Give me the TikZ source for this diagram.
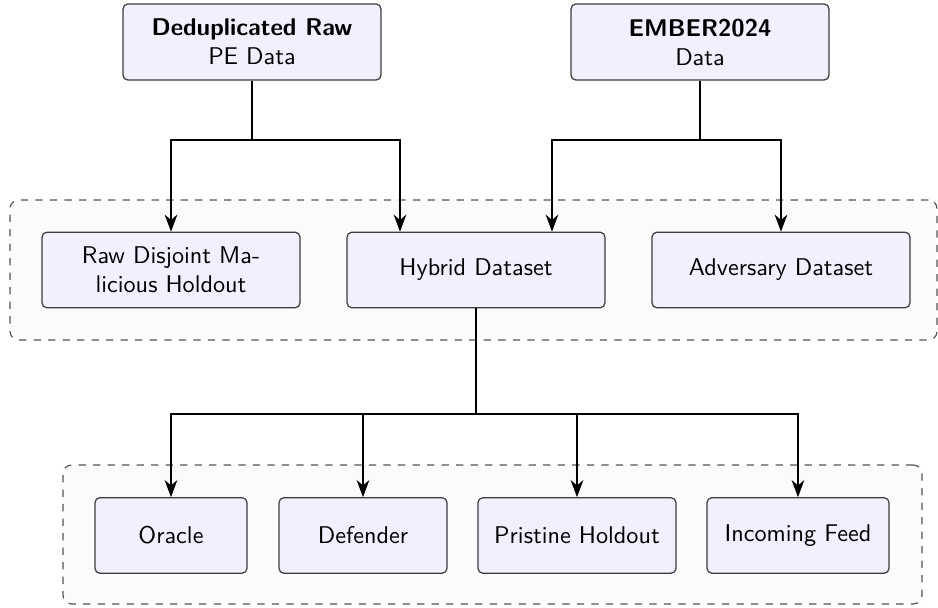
\documentclass[tikz,border=0pt]{standalone}
\usetikzlibrary{arrows.meta,calc,positioning}
\definecolor{boxfill}{RGB}{240,240,254}
\definecolor{boxline}{RGB}{60,60,60}
\definecolor{grpfill}{RGB}{251,251,251}
\definecolor{grpline}{RGB}{85,85,85}
\begin{document}
\begin{tikzpicture}[x=0.4132pt,y=-0.4132pt,
  font=\sffamily,
  databox/.style={draw=boxline,fill=boxfill,rounded corners=2pt,line width=0.5pt,
    inner sep=1pt,align=center,minimum height=31.2pt},
  group/.style={draw=grpline,fill=grpfill,dashed,rounded corners=3.5pt,line width=0.5pt,inner sep=0pt},
  link/.style={line width=1pt,black},
  flow/.style={link,-{Stealth[length=7pt,width=5.2pt,inset=2.2pt]}}]
\useasboundingbox (0,0) rectangle (938,608);
% groups
\node[group,minimum width=383pt,minimum height=57.85pt] (g1) at (473.5,270) {};
\node[group,minimum width=354.9pt,minimum height=57.4pt] (g2) at (492.5,534.5) {};
% top sources
\node[databox,minimum width=106.6pt,minimum height=31.4pt] (dedup) at (252,42) {\textbf{Deduplicated Raw}\\PE Data};
\node[databox,minimum width=106.6pt,minimum height=31.4pt] (ember) at (700,42) {\textbf{EMBER2024}\\Data};
% middle row
\node[databox,minimum width=106.6pt] (raw) at (171,270) {Raw Disjoint Ma-\\licious Holdout};
\node[databox,minimum width=106.6pt] (hybrid) at (476,270) {Hybrid Dataset};
\node[databox,minimum width=106.6pt] (adv) at (781,270) {Adversary Dataset};
% bottom row
\node[databox,minimum width=62.8pt] (oracle) at (171,535.5) {Oracle};
\node[databox,minimum width=69.4pt] (defender) at (363,535.5) {Defender};
\node[databox,minimum width=81.8pt] (pristine) at (577,535.5) {Pristine Holdout};
\node[databox,minimum width=75.2pt] (feed) at (798,535.5) {Incoming Feed};
% split points
\coordinate (s1) at (252,140);
\coordinate (s2) at (700,140);
\coordinate (s3) at (476,414);
\coordinate (h1) at ($(hybrid.north)+(-76,0)$);
\coordinate (h2) at ($(hybrid.north)+(76,0)$);
% connectors
\draw[link] (dedup.south) -- (s1);
\draw[flow] (s1) -| (raw.north);
\draw[flow] (s1) -| (h1);
\draw[link] (ember.south) -- (s2);
\draw[flow] (s2) -| (h2);
\draw[flow] (s2) -| (adv.north);
\draw[link] (hybrid.south) -- (s3);
\draw[flow] (s3) -| (oracle.north);
\draw[flow] (s3) -| (defender.north);
\draw[flow] (s3) -| (pristine.north);
\draw[flow] (s3) -| (feed.north);
\end{tikzpicture}
\end{document}
